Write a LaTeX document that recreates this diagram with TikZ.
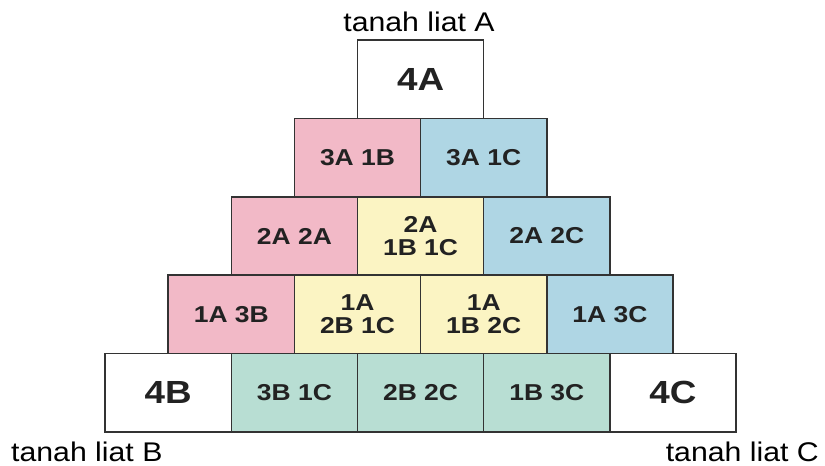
\documentclass[tikz,border=0pt]{standalone}
\usepackage{fontspec}
\setmainfont{Liberation Sans}
\newfontfamily\cellfont[FakeStretch=1.15]{Liberation Sans}
\newfontfamily\lblfont[FakeStretch=1.12]{Liberation Sans}
\definecolor{cpink}{HTML}{F2B9C7}
\definecolor{cblue}{HTML}{AFD6E4}
\definecolor{cyellow}{HTML}{FBF4C3}
\definecolor{cgreen}{HTML}{B8DED3}
\definecolor{cborder}{HTML}{333333}
\definecolor{ctext}{HTML}{222222}
\tikzset{
  cell/.style={draw=cborder, line width=1.5pt, minimum width=126.2pt, minimum height=78.4pt,
    inner sep=0pt, align=center, text=ctext,
    font={\cellfont\bfseries\fontsize{23}{23.5}\selectfont}},
  bigcell/.style={cell, fill=white, font={\cellfont\bfseries\fontsize{32}{34}\selectfont}},
  lbl/.style={inner sep=0pt, font={\lblfont\fontsize{27}{30}\selectfont}, text=black}
}
\begin{document}
\begin{tikzpicture}[x=1pt,y=-1pt]
\useasboundingbox[fill=white] (0,0) rectangle (825,466);
% row 0
\node[bigcell] (a4) at (420.6,79.2) {4A};
% row 1
\node[cell, fill=cpink] (a3b1) at (357.5,157.6) {3A 1B};
\node[cell, fill=cblue] (a3c1) at (483.7,157.6) {3A 1C};
% row 2
\node[cell, fill=cpink] (a2a2) at (294.4,236) {2A 2A};
\node[cell, fill=cyellow] (a2b1c1) at (420.6,236) {2A\\1B 1C};
\node[cell, fill=cblue] (a2c2) at (546.8,236) {2A 2C};
% row 3
\node[cell, fill=cpink] (a1b3) at (231.3,314.4) {1A 3B};
\node[cell, fill=cyellow] (a1b2c1) at (357.5,314.4) {1A\\2B 1C};
\node[cell, fill=cyellow] (a1b1c2) at (483.7,314.4) {1A\\1B 2C};
\node[cell, fill=cblue] (a1c3) at (609.9,314.4) {1A 3C};
% row 4
\node[bigcell] (b4) at (168.2,392.8) {4B};
\node[cell, fill=cgreen] (b3c1) at (294.4,392.8) {3B 1C};
\node[cell, fill=cgreen] (b2c2) at (420.6,392.8) {2B 2C};
\node[cell, fill=cgreen] (b1c3) at (546.8,392.8) {1B 3C};
\node[bigcell] (c4) at (673.0,392.8) {4C};
% labels
\node[lbl, anchor=base] (la) at (419,31.5) {tanah liat A};
\node[lbl, anchor=base west] (lb) at (11,461) {tanah liat B};
\node[lbl, anchor=base east] (lc) at (819,461) {tanah liat C};
\end{tikzpicture}
\end{document}
